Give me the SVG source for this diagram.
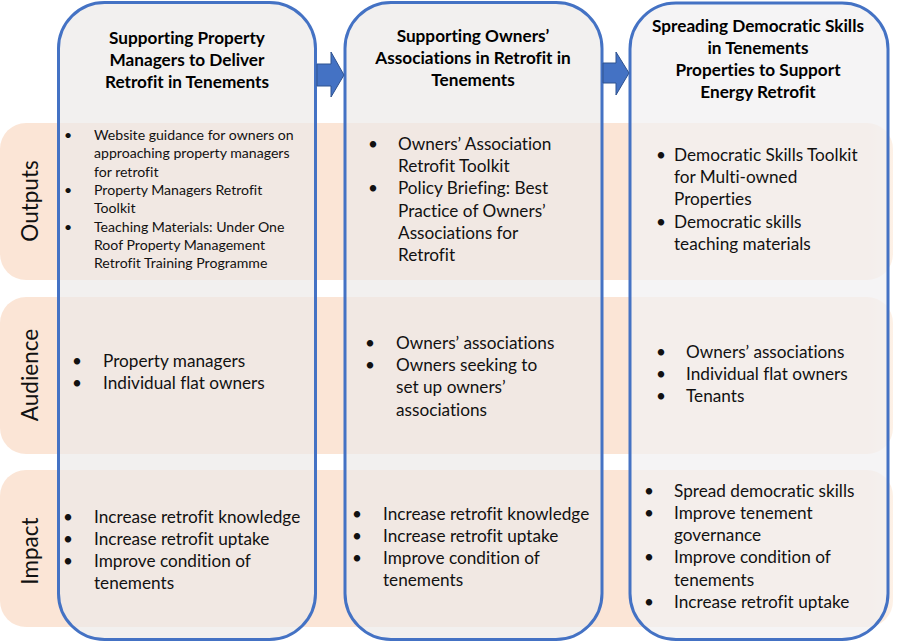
<svg xmlns="http://www.w3.org/2000/svg" width="915" height="643" viewBox="0 0 915 643">
<defs>
<linearGradient id="bandGrad" x1="0" y1="0" x2="1" y2="0">
<stop offset="0" stop-color="#fbe5d6"/>
<stop offset="0.97" stop-color="#fbe5d6"/>
<stop offset="1" stop-color="#fdf1e7"/>
</linearGradient>
</defs>
<style>
text{font-family:Lato,"Noto Sans","Liberation Sans",sans-serif;fill:#111;font-variant-ligatures:none}
.band{fill:url(#bandGrad)}
.col{fill:#ede9e8;fill-opacity:0.7;stroke:#4472c4;stroke-width:3}
.col3{fill:#f2f0f2;fill-opacity:0.75;stroke:#4472c4;stroke-width:3}
.hd{font-weight:bold;font-size:17.2px;text-anchor:middle;fill:#000}
.lbl{font-size:22.5px}
.s{font-size:14.1px}
.m{font-size:17.2px}
.arrow{fill:#4472c4;stroke:#2f528f;stroke-width:1}
</style>
<g id="bands">
<g id="row-outputs"><rect class="band" x="0" y="123" width="893" height="157" rx="26"/><text class="lbl" transform="translate(38,201) rotate(-90)" text-anchor="middle">Outputs</text></g>
<g id="row-audience"><rect class="band" x="0" y="297" width="893" height="157" rx="26"/><text class="lbl" transform="translate(38,375) rotate(-90)" text-anchor="middle">Audience</text></g>
<g id="row-impact"><rect class="band" x="0" y="470" width="893" height="157" rx="26"/><text class="lbl" transform="translate(38,551) rotate(-90)" text-anchor="middle">Impact</text></g>
</g>
<g id="col-property-managers">
<rect class="col" x="58.5" y="2.5" width="257" height="637" rx="46"/>
<text class="hd"><tspan x="187" y="44">Supporting Property</tspan><tspan x="187" y="66">Managers to Deliver</tspan><tspan x="187" y="88">Retrofit in Tenements</tspan></text>
<g class="s">
<text x="64" y="140">•</text><text x="94" y="140">Website guidance for owners on</text>
<text x="94" y="158.3">approaching property managers</text>
<text x="94" y="176.6">for retrofit</text>
<text x="64" y="195">•</text><text x="94" y="195">Property Managers Retrofit</text>
<text x="94" y="213.3">Toolkit</text>
<text x="64" y="231.6">•</text><text x="94" y="231.6">Teaching Materials: Under One</text>
<text x="94" y="250">Roof Property Management</text>
<text x="94" y="268.3">Retrofit Training Programme</text>
</g>
<g class="m">
<text x="72" y="367">•</text><text x="103" y="367">Property managers</text>
<text x="72" y="389">•</text><text x="103" y="389">Individual flat owners</text>
<text x="63" y="523">•</text><text x="94" y="523">Increase retrofit knowledge</text>
<text x="63" y="545">•</text><text x="94" y="545">Increase retrofit uptake</text>
<text x="63" y="567">•</text><text x="94" y="567">Improve condition of</text>
<text x="94" y="589">tenements</text>
</g>
</g>
<g id="col-owners-associations">
<rect class="col" x="345" y="2.5" width="257" height="637" rx="46"/>
<text class="hd"><tspan x="473" y="42">Supporting Owners’</tspan><tspan x="473" y="64">Associations in Retrofit in</tspan><tspan x="473" y="86">Tenements</tspan></text>
<g class="m">
<text x="368" y="150">•</text><text x="398" y="150">Owners’ Association</text>
<text x="398" y="172">Retrofit Toolkit</text>
<text x="368" y="194">•</text><text x="398" y="194">Policy Briefing: Best</text>
<text x="398" y="217">Practice of Owners’</text>
<text x="398" y="239">Associations for</text>
<text x="398" y="261">Retrofit</text>
<text x="365" y="349">•</text><text x="396" y="349">Owners’ associations</text>
<text x="365" y="371">•</text><text x="396" y="371">Owners seeking to</text>
<text x="396" y="393">set up owners’</text>
<text x="396" y="416">associations</text>
<text x="352" y="520">•</text><text x="383" y="520">Increase retrofit knowledge</text>
<text x="352" y="542">•</text><text x="383" y="542">Increase retrofit uptake</text>
<text x="352" y="564">•</text><text x="383" y="564">Improve condition of</text>
<text x="383" y="586">tenements</text>
</g>
</g>
<g id="col-democratic-skills">
<rect class="col3" x="630" y="3" width="258" height="636.5" rx="46"/>
<text class="hd"><tspan x="758" y="32">Spreading Democratic Skills</tspan><tspan x="758" y="54">in Tenements</tspan><tspan x="758" y="76">Properties to Support</tspan><tspan x="758" y="98">Energy Retrofit</tspan></text>
<g class="m">
<text x="656" y="161">•</text><text x="674" y="161">Democratic Skills Toolkit</text>
<text x="674" y="183">for Multi-owned</text>
<text x="674" y="205">Properties</text>
<text x="656" y="228">•</text><text x="674" y="228">Democratic skills</text>
<text x="674" y="250">teaching materials</text>
<text x="656" y="358">•</text><text x="686" y="358">Owners’ associations</text>
<text x="656" y="380">•</text><text x="686" y="380">Individual flat owners</text>
<text x="656" y="402">•</text><text x="686" y="402">Tenants</text>
<text x="644" y="497">•</text><text x="674" y="497">Spread democratic skills</text>
<text x="644" y="519">•</text><text x="674" y="519">Improve tenement</text>
<text x="674" y="541">governance</text>
<text x="644" y="563">•</text><text x="674" y="563">Improve condition of</text>
<text x="674" y="586">tenements</text>
<text x="644" y="608">•</text><text x="674" y="608">Increase retrofit uptake</text>
</g>
</g>
<g id="connectors">
<path class="arrow" d="M317,64 L331,64 L331,52 L344,75 L331,97 L331,86 L317,86 Z"/>
<path class="arrow" d="M603,63 L616,63 L616,52 L629,73 L616,95 L616,83 L603,83 Z"/>
</g>
</svg>
